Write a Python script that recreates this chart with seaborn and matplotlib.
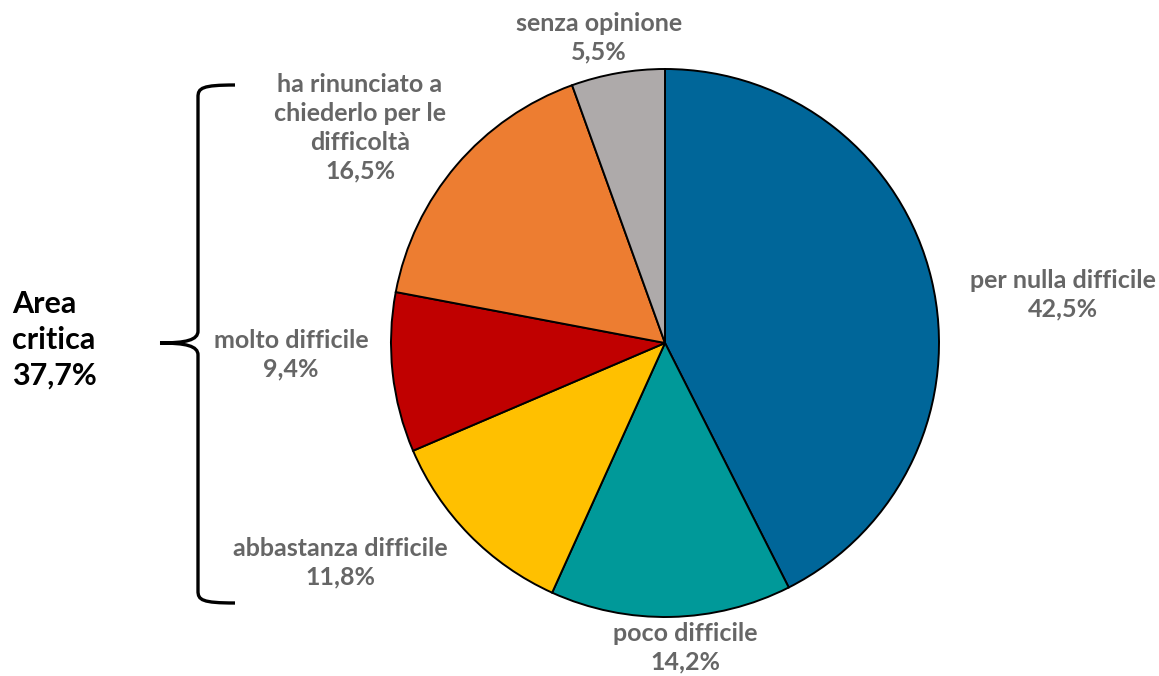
import matplotlib
matplotlib.use("Agg")
import matplotlib.pyplot as plt
import seaborn as sns
from matplotlib.path import Path
from matplotlib.patches import PathPatch

# data
categories = ['per nulla difficile', 'poco difficile', 'abbastanza difficile',
              'molto difficile', 'ha rinunciato a\nchiederlo per le\ndifficoltà', 'senza opinione']
values = [42.5, 14.2, 11.8, 9.4, 16.5, 5.5]
colors = ['#006699', '#009999', '#FFC000', '#C00000', '#ED7D31', '#AEAAAA']
critical_total = 37.7

# label centers in pixel coordinates (x, y from top)
label_pos = [(1063, 295), (685, 648), (340, 563), (291, 355), (360, 128), (599, 38)]

sns.set_theme(style='white')
plt.rcParams['font.family'] = ['Lato', 'DejaVu Sans']

W, H = 1159, 676
fig = plt.figure(figsize=(W / 100, H / 100), dpi=100)
ax = fig.add_axes([0, 0, 1, 1])

cx, cy, r = 665, H - 343, 274
ax.pie(values, colors=colors, startangle=90, counterclock=False,
       center=(cx, cy), radius=r, frame=True,
       wedgeprops=dict(edgecolor='black', linewidth=1.4))
ax.set_xlim(0, W)
ax.set_ylim(0, H)
ax.set_aspect('equal')
ax.axis('off')

for cat, val, (px, py) in zip(categories, values, label_pos):
    txt = f"{cat}\n{val:.1f}%".replace('.', ',')
    ax.text(px, H - py, txt, ha='center', va='center', fontsize=18,
            fontweight='bold', color='#666666', linespacing=1.3)

# curly brace for the critical area
x0, xl, xt = 235, 198, 160
yt, ym, yb = H - 85, H - 343, H - 603
verts = [(x0, yt), (xl + 4, yt), (xl, yt - 3), (xl, yt - 12),
         (xl, ym + 12),
         (xl, ym + 3), (xl - 12, ym), (xt, ym),
         (xl - 12, ym), (xl, ym - 3), (xl, ym - 12),
         (xl, yb + 12),
         (xl, yb + 3), (xl + 4, yb), (x0, yb)]
codes = [Path.MOVETO, Path.CURVE4, Path.CURVE4, Path.CURVE4,
         Path.LINETO,
         Path.CURVE4, Path.CURVE4, Path.CURVE4,
         Path.CURVE4, Path.CURVE4, Path.CURVE4,
         Path.LINETO,
         Path.CURVE4, Path.CURVE4, Path.CURVE4]
ax.add_patch(PathPatch(Path(verts, codes), fill=False, edgecolor='black', linewidth=2.4))

ax.text(12, H - 340, f"Area\ncritica\n{critical_total:.1f}%".replace('.', ','),
        ha='left', va='center', fontsize=22, fontweight='bold', color='black',
        linespacing=1.35)

fig.savefig('out.png', dpi=100)
